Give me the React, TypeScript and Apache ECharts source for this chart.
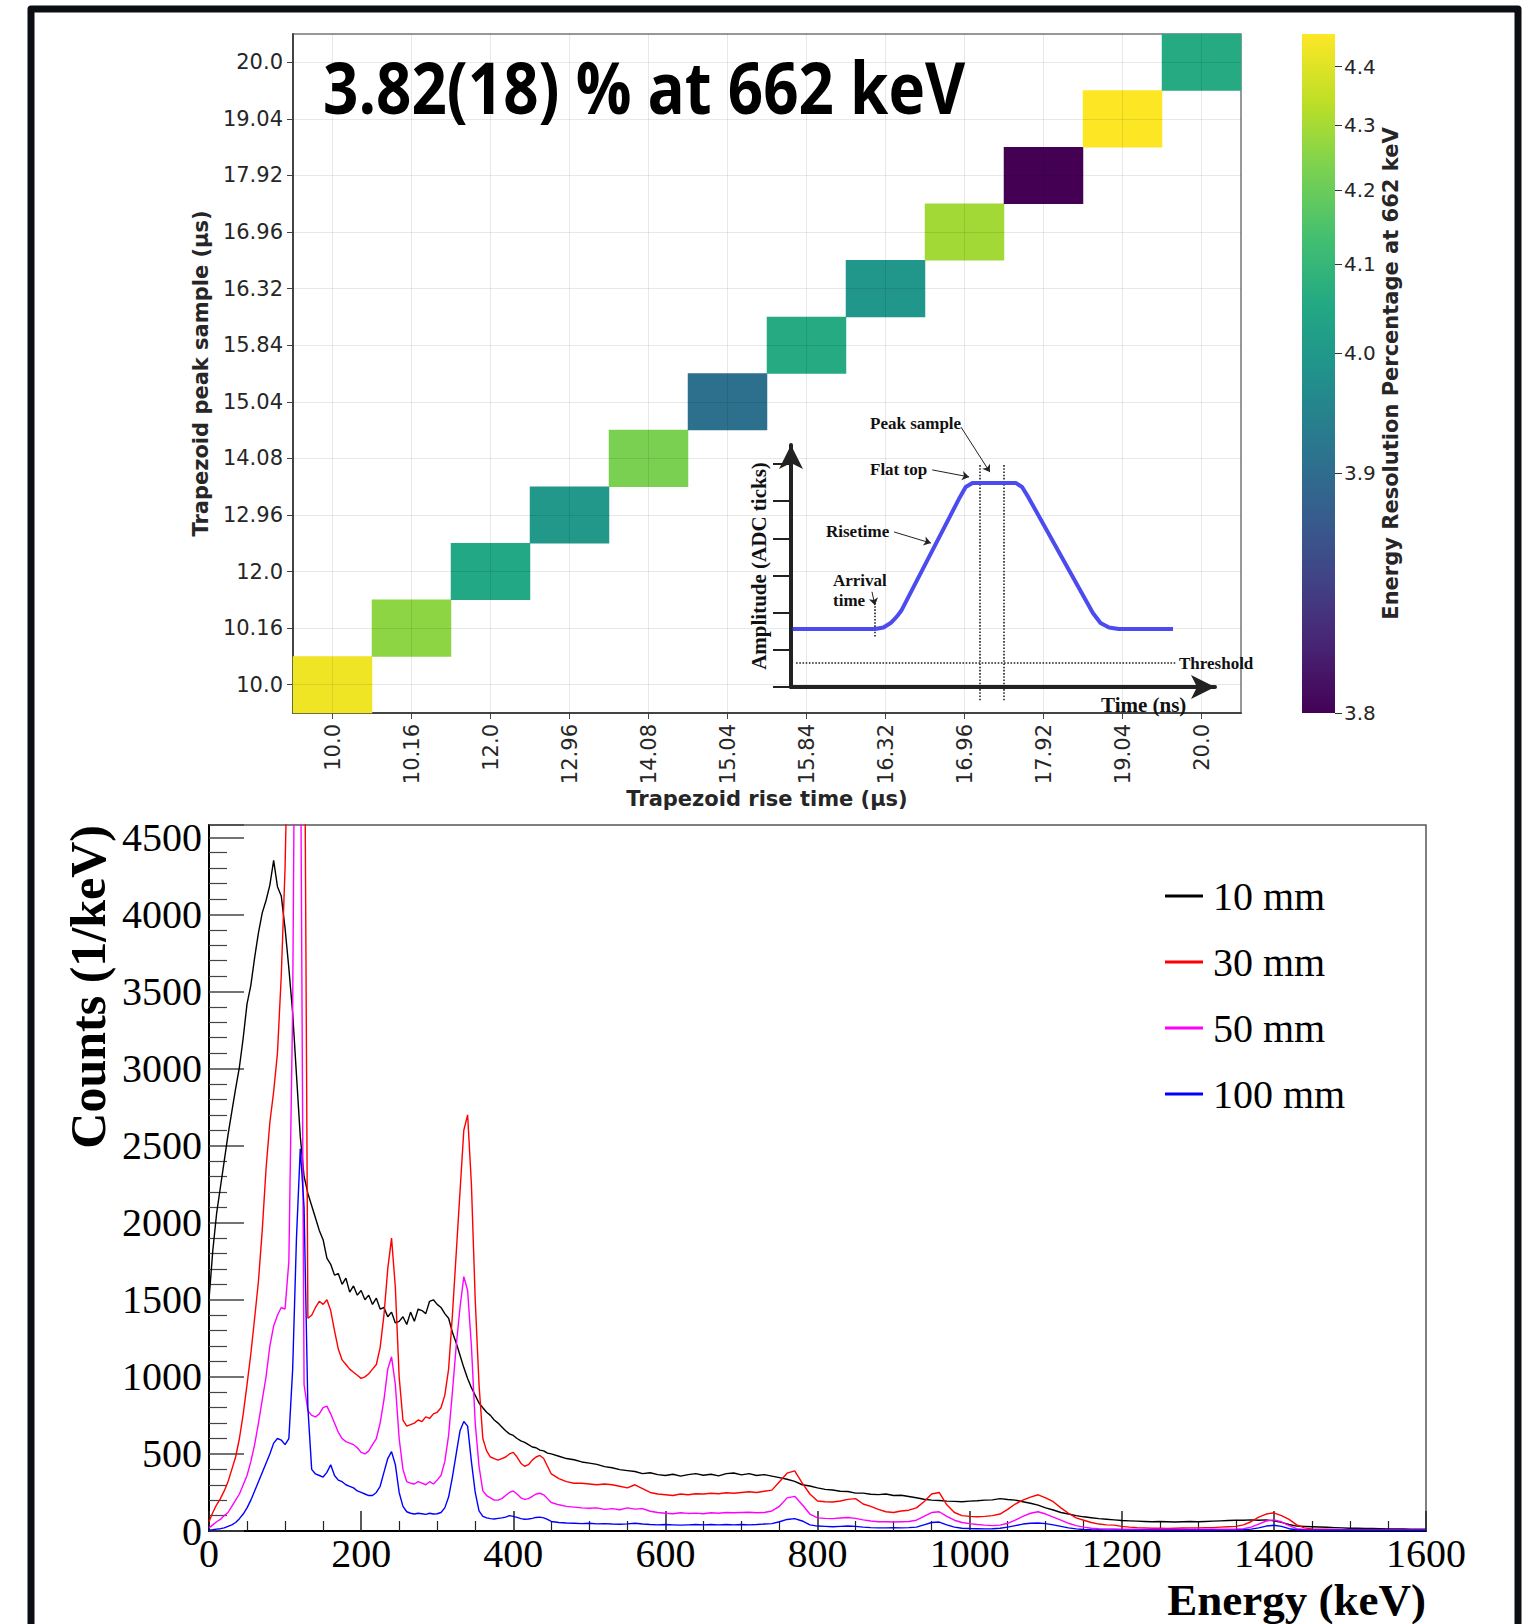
import React, { useEffect, useRef } from 'react';
import * as echarts from 'echarts';

// ---------------- Heatmap data ----------------
const RISE_TIMES = ['10.0', '10.16', '12.0', '12.96', '14.08', '15.04', '15.84', '16.32', '16.96', '17.92', '19.04', '20.0'];
const PEAK_SAMPLES = ['10.0', '10.16', '12.0', '12.96', '14.08', '15.04', '15.84', '16.32', '16.96', '17.92', '19.04', '20.0'];
// energy resolution (%) on the diagonal cells (rise time i, peak sample i)
const RESOLUTION = [4.434, 4.26, 4.05, 4.0, 4.23, 3.907, 4.058, 3.993, 4.293, 3.82, 4.46, 4.058];
const CB_MIN = 3.82;
const CB_MAX = 4.46;
const CB_TICKS = [3.8, 3.9, 4.0, 4.1, 4.2, 4.3, 4.4];
const VIRIDIS = ['#440154', '#482475', '#414487', '#355f8d', '#2a788e', '#21918c', '#22a884', '#44bf70', '#7ad151', '#bddf26', '#fde725'];

// ---------------- Inset schematic (trapezoid) ----------------
const PULSE = [
  [0.4, 1.56], [19.8, 1.56], [21.8, 1.6], [23.5, 1.72], [25, 1.9], [26, 2.05], [39.8, 5.1], [41.2, 5.38], [42.8, 5.49],
  [53, 5.49], [54.5, 5.38], [56, 5.1], [71.2, 1.99], [73, 1.72], [75, 1.6], [77.3, 1.56], [90.1, 1.56],
];
const GUIDES = [
  [[44.6, 5.97], [44.6, -0.4]],
  [[50.2, 5.97], [50.2, -0.4]],
  [[19.8, 2.26], [19.8, 1.35]],
  [[1.2, 0.65], [90.8, 0.65]],
];
const POINTERS = [
  [[40.1, 6.99], [46.9, 5.78]],
  [[33.3, 5.84], [42, 5.65]],
  [[24.3, 4.17], [33, 3.87]],
  [[19.1, 2.56], [19.8, 2.2]],
];

// ---------------- Spectrum data ----------------
const ENERGY = [
  0, 5, 10, 15, 20, 25, 30, 35, 40, 45,
  50, 55, 60, 65, 70, 75, 80, 85, 90, 95,
  100, 105, 110, 115, 120, 125, 130, 135, 140, 145,
  150, 155, 160, 165, 170, 175, 180, 185, 190, 195,
  200, 205, 210, 215, 220, 225, 230, 235, 240, 245,
  250, 255, 260, 265, 270, 275, 280, 285, 290, 295,
  300, 305, 310, 315, 320, 325, 330, 335, 340, 345,
  350, 355, 360, 365, 370, 375, 380, 385, 390, 395,
  400, 405, 410, 415, 420, 425, 430, 435, 440, 445,
  450,
  460, 470, 480, 490, 500, 510, 520, 530, 540, 550,
  560, 570, 580, 590, 600, 610, 620, 630, 640, 650,
  660, 670, 680, 690, 700, 710, 720, 730, 740, 750,
  760, 770, 780, 790, 800, 810, 820, 830, 840, 850,
  860, 870, 880, 890, 900, 910, 920, 930, 940, 950,
  960, 970, 980, 990, 1000, 1010, 1020, 1030, 1040, 1050,
  1060, 1070, 1080, 1090, 1100, 1110, 1120, 1130, 1140, 1150,
  1160, 1170, 1180, 1190, 1200, 1210, 1220, 1230, 1240, 1250,
  1260, 1270, 1280, 1290, 1300, 1310, 1320, 1330, 1340, 1350,
  1360, 1370, 1380, 1390, 1400, 1410, 1420, 1430, 1440, 1450,
  1460, 1470, 1480, 1490, 1500, 1510, 1520, 1530, 1540, 1550,
  1560, 1570, 1580, 1590, 1600,
];
const MM10 = [
  1500, 1820, 2060, 2230, 2400, 2570, 2720, 2870, 3010, 3200,
  3420, 3540, 3720, 3880, 4010, 4090, 4190, 4350, 4180, 4120,
  3910, 3650, 3360, 2960, 2560, 2300, 2190, 2110, 2030, 1950,
  1890, 1770, 1730, 1660, 1670, 1600, 1640, 1550, 1590, 1530,
  1560, 1500, 1530, 1470, 1510, 1440, 1450, 1390, 1420, 1350,
  1360, 1390, 1340, 1420, 1360, 1440, 1430, 1410, 1490, 1500,
  1470, 1450, 1410, 1380, 1290, 1220, 1140, 1060, 990, 930,
  880, 830, 800, 770, 750, 720, 700, 675, 650, 630,
  620, 600, 585, 575, 560, 545, 540, 525, 520, 505,
  500,
  485, 470, 462, 448, 440, 432, 418, 410, 398, 392,
  386, 372, 378, 366, 360, 368, 356, 366, 372, 362,
  368, 358, 372, 376, 364, 372, 360, 366, 356, 346,
  336, 322, 300, 292, 280, 270, 266, 258, 256, 246,
  246, 238, 236, 240, 230, 232, 224, 216, 206, 200,
  198, 194, 192, 190, 194, 196, 200, 202, 210, 204,
  200, 190, 180, 168, 150, 136, 120, 110, 100, 92,
  86, 80, 76, 72, 68, 66, 64, 62, 60, 62,
  60, 58, 60, 62, 60, 62, 64, 66, 68, 70,
  70, 72, 70, 72, 66, 56, 42, 32, 30, 28,
  26, 24, 22, 20, 18, 18, 17, 16, 15, 14,
  14, 13, 12, 12, 11,
];
const MM30 = [
  60, 120, 170, 210, 260, 320, 400, 480, 600, 760,
  950, 1150, 1380, 1620, 1950, 2350, 2650, 2850, 3100, 3600,
  4300, 5500, 8000, 9500, 9000, 6000, 1380, 1400, 1450, 1490,
  1470, 1500, 1430, 1300, 1180, 1110, 1080, 1050, 1030, 1010,
  990, 1000, 1020, 1050, 1080, 1190, 1400, 1700, 1900, 1580,
  1000, 720, 680, 690, 700, 720, 710, 740, 730, 760,
  770, 800, 880, 1050, 1400, 1800, 2200, 2600, 2700, 2250,
  1500, 950, 600, 520, 480, 470, 460, 470, 480, 500,
  510, 480, 440, 420, 430, 460, 480, 490, 470, 420,
  370,
  340, 320, 310, 310, 305, 300, 305, 300, 290, 280,
  300, 275, 250, 240, 235, 230, 240, 235, 242, 240,
  245, 242, 248, 245, 250, 255, 250, 258, 265, 320,
  375, 390, 310, 240, 195, 190, 188, 195, 205, 210,
  175, 160, 140, 125, 120, 130, 135, 150, 190, 240,
  250, 170, 120, 100, 95, 92, 95, 100, 110, 140,
  175, 200, 220, 235, 215, 190, 150, 115, 85, 70,
  55, 45, 40, 38, 30, 25, 22, 20, 18, 18,
  17, 18, 19, 20, 20, 22, 22, 25, 28, 30,
  40, 60, 90, 110, 118, 100, 75, 40, 20, 14,
  12, 11, 10, 9, 9, 9, 8, 8, 8, 8,
  8, 7, 7, 7, 7,
];
const MM50 = [
  20, 40, 60, 75, 100, 120, 160, 200, 240, 300,
  360, 450, 560, 700, 850, 1000, 1200, 1330, 1400, 1450,
  1440, 1750, 3400, 7000, 5500, 950, 780, 750, 740, 760,
  800, 810, 760, 700, 640, 600, 580, 570, 560, 540,
  510, 500, 520, 560, 600, 700, 850, 1050, 1130, 950,
  600, 400, 320, 310, 305, 320, 310, 300, 320, 305,
  330, 360, 450, 620, 900, 1200, 1450, 1650, 1560, 1200,
  700, 420, 260, 230, 215, 200, 200, 210, 230, 250,
  260, 240, 215, 205, 210, 225, 240, 245, 235, 210,
  185,
  170, 160, 155, 150, 148, 150, 140, 145, 138, 150,
  142, 145, 128, 120, 115, 112, 118, 114, 116, 112,
  118, 115, 120, 118, 120, 122, 118, 120, 130, 160,
  215, 225, 170, 110, 85, 82, 80, 84, 88, 82,
  72, 65, 60, 60, 58, 60, 62, 70, 95, 120,
  125, 95, 70, 55, 48, 42, 38, 35, 38, 50,
  70, 95, 115, 125, 110, 90, 70, 50, 35, 25,
  18, 15, 14, 13, 12, 12, 12, 11, 11, 11,
  11, 11, 11, 11, 11, 11, 11, 12, 12, 13,
  15, 25, 45, 65, 72, 60, 35, 15, 10, 9,
  8, 8, 8, 8, 8, 7, 7, 7, 7, 7,
  7, 7, 7, 7, 7,
];
const MM100 = [
  5, 8, 12, 15, 20, 30, 40, 55, 80, 110,
  150, 200, 260, 320, 380, 440, 500, 570, 600, 590,
  560, 600, 1050, 1900, 2480, 2100, 800, 400, 370, 360,
  350, 380, 430, 360, 330, 320, 300, 290, 280, 260,
  250, 240, 230, 230, 250, 290, 380, 470, 515, 430,
  250, 160, 125, 115, 110, 115, 112, 108, 115, 110,
  112, 120, 150, 220, 350, 500, 650, 710, 680, 450,
  250, 130, 95, 85, 80, 78, 82, 85, 90, 100,
  95, 88, 80, 76, 78, 82, 88, 90, 85, 75,
  62,
  55, 52, 50, 48, 50, 46, 48, 45, 44, 46,
  50, 45, 42, 40, 42, 40, 38, 40, 42, 40,
  42, 40, 42, 40, 42, 40, 42, 45, 48, 60,
  75, 80, 65, 40, 32, 30, 28, 30, 32, 30,
  25, 22, 20, 20, 22, 20, 22, 25, 40, 55,
  58, 40, 25, 18, 16, 15, 14, 15, 18, 25,
  35, 45, 50, 52, 48, 40, 30, 20, 14, 10,
  8, 7, 6, 6, 6, 6, 6, 5, 5, 5,
  5, 5, 5, 5, 5, 5, 5, 6, 6, 6,
  8, 12, 20, 32, 37, 30, 15, 8, 6, 5,
  5, 5, 5, 5, 5, 5, 5, 5, 5, 5,
  5, 5, 5, 5, 5,
];
const SERIES_NAMES = ['10 mm', '30 mm', '50 mm', '100 mm'];
const SERIES_COLORS = ['#000000', '#ff0000', '#ff00ff', '#0000ff'];
const SERIES_VALUES = [MM10, MM30, MM50, MM100];

const SANS = '"DejaVu Sans", sans-serif';
const SERIF = '"Liberation Serif", "Times New Roman", serif';

const pn = (v: number) => Math.min(1, Math.sqrt(Math.max(0, (v - CB_MIN) / (CB_MAX - CB_MIN))));

function buildOption() {
  const heatData = RESOLUTION.map((r, i) => [i, i, pn(r), r]);
  const cbPositions = CB_TICKS.map(pn);
  const cbLabel = (v: number) => {
    let best = 0;
    cbPositions.forEach((p, i) => { if (Math.abs(p - v) < Math.abs(cbPositions[best] - v)) best = i; });
    return CB_TICKS[best].toFixed(1);
  };

  const gridLines = [
    ...RISE_TIMES.map((c) => ({ xAxis: c })),
    ...PEAK_SAMPLES.map((c) => ({ yAxis: c })),
  ];

  const spectrumSeries = SERIES_NAMES.map((name, k) => ({
    name,
    type: 'line',
    xAxisIndex: 3,
    yAxisIndex: 3,
    data: ENERGY.map((e, i) => [e, SERIES_VALUES[k][i]]),
    showSymbol: false,
    symbol: 'none',
    lineStyle: { color: SERIES_COLORS[k], width: 1.4 },
    itemStyle: { color: SERIES_COLORS[k] },
    clip: true,
    silent: true,
  }));

  const annot = (text: string, x: number, y: number, size = 17) => ({
    type: 'text',
    x,
    y,
    z: 7,
    silent: true,
    style: {
      text,
      fill: '#111',
      fontFamily: SERIF,
      fontWeight: 'bold',
      fontSize: size,
      textAlign: 'left',
      textVerticalAlign: 'middle',
    },
  });

  const plain = (v: number) => String(v);

  return {
    animation: false,
    backgroundColor: '#ffffff',
    grid: [
      { left: 293, top: 34, width: 948, height: 679, show: true, borderColor: '#777', borderWidth: 1.5 },
      { left: 1302, top: 34, width: 33, height: 679 },
      { left: 791, top: 445, width: 424, height: 242 },
      { left: 209, top: 825, width: 1217, height: 706, show: true, borderColor: '#555', borderWidth: 1.5 },
      { left: 791, top: 389.6, width: 424, height: 334.5 },
    ],
    xAxis: [
      {
        gridIndex: 0,
        type: 'category',
        data: RISE_TIMES,
        axisLine: { lineStyle: { color: '#444', width: 2 } },
        axisTick: { show: true, alignWithLabel: true, length: 6, lineStyle: { color: '#444' } },
        axisLabel: { rotate: 90, fontSize: 21, color: '#262626', fontFamily: SANS, margin: 11 },
        splitLine: { show: false },
        name: 'Trapezoid rise time (µs)',
        nameLocation: 'middle',
        nameGap: 70,
        nameTextStyle: { fontSize: 21, fontWeight: 'bold', color: '#262626', fontFamily: SANS },
      },
      { gridIndex: 1, type: 'category', data: ['cb'], show: false },
      {
        gridIndex: 2,
        type: 'value',
        min: 0,
        max: 100,
        z: 5,
        axisLine: { show: true, symbol: ['none', 'arrow'], symbolSize: [18, 24], lineStyle: { color: '#222', width: 4 } },
        axisTick: { show: false },
        axisLabel: { show: false },
        splitLine: { show: false },
      },
      {
        gridIndex: 3,
        type: 'value',
        min: 0,
        max: 1600,
        interval: 200,
        axisLine: { lineStyle: { color: '#000', width: 2 } },
        axisTick: { inside: true, length: 20, lineStyle: { color: '#222', width: 1.5 } },
        minorTick: { show: true, splitNumber: 4, length: 10, lineStyle: { color: '#222', width: 1.2 } },
        axisLabel: { fontFamily: SERIF, fontSize: 40, color: '#000', margin: 2, formatter: plain },
        splitLine: { show: false },
      },
      { gridIndex: 4, type: 'value', min: 0, max: 100, show: false },
    ],
    yAxis: [
      {
        gridIndex: 0,
        type: 'category',
        data: PEAK_SAMPLES,
        axisLine: { lineStyle: { color: '#444', width: 2 } },
        axisTick: { show: true, alignWithLabel: true, length: 6, lineStyle: { color: '#444' } },
        axisLabel: { fontSize: 21, color: '#262626', fontFamily: SANS, margin: 10 },
        splitLine: { show: false },
        name: 'Trapezoid peak sample (µs)',
        nameLocation: 'middle',
        nameGap: 76,
        nameTextStyle: { fontSize: 21, fontWeight: 'bold', color: '#262626', fontFamily: SANS },
      },
      {
        gridIndex: 1,
        type: 'value',
        min: 0,
        max: 1,
        position: 'right',
        axisLine: { show: false },
        splitLine: { show: false },
        axisTick: { show: true, customValues: cbPositions, length: 7, lineStyle: { color: '#333' } },
        axisLabel: { customValues: cbPositions, formatter: cbLabel, fontSize: 20, color: '#262626', fontFamily: SANS, margin: 9 },
        name: 'Energy Resolution Percentage at 662 keV',
        nameLocation: 'middle',
        nameRotate: 90,
        nameGap: 45,
        nameTextStyle: { fontSize: 21, fontWeight: 'bold', color: '#262626', fontFamily: SANS },
      },
      {
        gridIndex: 2,
        type: 'value',
        min: 0,
        max: 6.51,
        z: 5,
        axisLine: { show: true, symbol: ['none', 'arrow'], symbolSize: [18, 24], lineStyle: { color: '#222', width: 4 } },
        axisTick: { show: true, customValues: [0, 1, 2, 3, 4, 5, 6], length: 18, lineStyle: { color: '#222', width: 2 } },
        axisLabel: { show: false },
        splitLine: { show: false },
        name: 'Amplitude (ADC ticks)',
        nameLocation: 'middle',
        nameGap: 22,
        nameTextStyle: { fontSize: 21, fontWeight: 'bold', color: '#111', fontFamily: SERIF },
      },
      {
        gridIndex: 3,
        type: 'value',
        min: 0,
        max: 4580,
        interval: 500,
        axisLine: { lineStyle: { color: '#000', width: 2 } },
        axisTick: { inside: true, length: 35, lineStyle: { color: '#444', width: 1.5 } },
        minorTick: { show: true, splitNumber: 5, length: 18, lineStyle: { color: '#444', width: 1.2 } },
        axisLabel: { fontFamily: SERIF, fontSize: 40, color: '#000', margin: 7, showMaxLabel: false, formatter: plain },
        splitLine: { show: false },
      },
      { gridIndex: 4, type: 'value', min: -1, max: 8, show: false },
    ],
    visualMap: {
      type: 'continuous',
      show: false,
      min: 0,
      max: 1,
      dimension: 2,
      seriesIndex: 0,
      inRange: { color: VIRIDIS },
    },
    legend: {
      data: SERIES_NAMES,
      left: 1160,
      top: 871,
      orient: 'vertical',
      itemGap: 26,
      itemWidth: 38,
      itemHeight: 3,
      icon: 'rect',
      textStyle: { fontFamily: SERIF, fontSize: 40, color: '#000', padding: [0, 0, 0, 5] },
    },
    series: [
      {
        type: 'heatmap',
        xAxisIndex: 0,
        yAxisIndex: 0,
        data: heatData,
        silent: true,
        z: 2,
        markLine: {
          silent: true,
          symbol: ['none', 'none'],
          label: { show: false },
          lineStyle: { color: '#000', opacity: 0.09, type: 'solid', width: 1 },
          data: gridLines,
        },
      },
      {
        type: 'bar',
        xAxisIndex: 1,
        yAxisIndex: 1,
        data: [1],
        barWidth: '100%',
        silent: true,
        itemStyle: {
          color: new echarts.graphic.LinearGradient(0, 1, 0, 0, VIRIDIS.map((c, i) => ({ offset: i / (VIRIDIS.length - 1), color: c }))),
        },
      },
      {
        type: 'line',
        xAxisIndex: 2,
        yAxisIndex: 2,
        data: PULSE,
        showSymbol: false,
        symbol: 'none',
        clip: false,
        silent: true,
        z: 6,
        lineStyle: { color: '#4b4bef', width: 4 },
      },
      {
        type: 'line',
        xAxisIndex: 4,
        yAxisIndex: 4,
        data: [],
        clip: false,
        silent: true,
        z: 6,
        markLine: {
          silent: true,
          symbol: ['none', 'none'],
          label: { show: false },
          lineStyle: { color: '#222', type: 'dotted', width: 1.6 },
          data: GUIDES.map(([a, b]) => [{ coord: a }, { coord: b }]),
        },
      },
      {
        type: 'line',
        xAxisIndex: 4,
        yAxisIndex: 4,
        data: [],
        clip: false,
        silent: true,
        z: 6,
        markLine: {
          silent: true,
          symbol: ['none', 'arrow'],
          symbolSize: 7,
          label: { show: false },
          lineStyle: { color: '#222', type: 'solid', width: 1 },
          data: POINTERS.map(([a, b]) => [{ coord: a }, { coord: b }]),
        },
      },
      ...spectrumSeries,
    ],
    graphic: [
      {
        type: 'rect',
        z: 3,
        silent: true,
        shape: { x: 772, y: 417, width: 448, height: 294 },
        style: { fill: '#ffffff' },
      },
      annot('Peak sample', 870, 423),
      annot('Flat top', 870, 469),
      annot('Risetime', 826, 531),
      annot('Arrival', 833, 580),
      annot('time', 833, 600),
      annot('Threshold', 1179, 663),
      annot('Time (ns)', 1101, 705, 21),
      {
        type: 'text',
        x: 323,
        y: 86,
        scaleX: 0.86,
        z: 10,
        silent: true,
        style: {
          text: '3.82(18) % at 662 keV',
          fill: '#000',
          fontFamily: '"Open Sans", sans-serif',
          fontWeight: 'bold',
          fontSize: 72,
          textAlign: 'left',
          textVerticalAlign: 'middle',
        },
      },
      {
        type: 'text',
        x: 1426,
        y: 1600,
        z: 10,
        silent: true,
        style: {
          text: 'Energy (keV)',
          fill: '#000',
          fontFamily: SERIF,
          fontWeight: 'bold',
          fontSize: 45,
          textAlign: 'right',
          textVerticalAlign: 'middle',
        },
      },
      {
        type: 'text',
        x: 88,
        y: 825,
        rotation: Math.PI / 2,
        z: 10,
        silent: true,
        style: {
          text: 'Counts (1/keV)',
          fill: '#000',
          fontFamily: SERIF,
          fontWeight: 'bold',
          fontSize: 50,
          textAlign: 'right',
          textVerticalAlign: 'middle',
        },
      },
      {
        type: 'polyline',
        z: 20,
        silent: true,
        shape: { points: [[31, 1624], [31, 9], [1518, 9], [1518, 1624]] },
        style: { stroke: '#0b0f14', lineWidth: 7, fill: null, lineJoin: 'round' },
      },
    ],
  };
}

export default function App() {
  const ref = useRef<HTMLDivElement>(null);
  useEffect(() => {
    document.body.style.margin = '0';
    const el = ref.current;
    if (!el) return;
    const chart = echarts.init(el, null, { renderer: 'svg' });
    chart.setOption(buildOption() as any);
    return () => chart.dispose();
  }, []);
  return <div ref={ref} style={{ width: 1533, height: 1624, background: '#fff' }} />;
}
